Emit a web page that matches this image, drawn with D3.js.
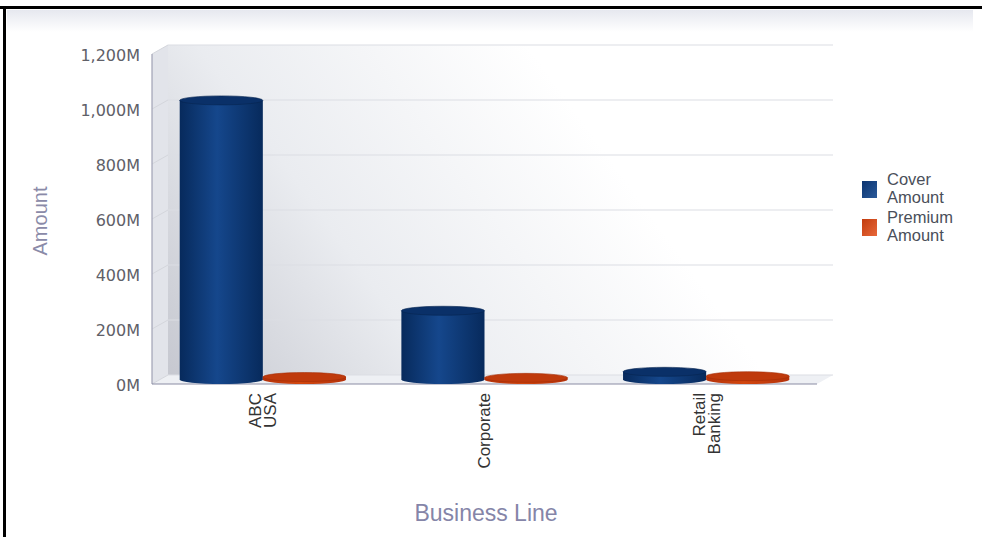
<!DOCTYPE html>
<html><head><meta charset="utf-8">
<script src="https://cdnjs.cloudflare.com/ajax/libs/d3/7.8.5/d3.min.js"></script>
<style>html,body{margin:0;padding:0;background:#fff;overflow:hidden}</style>
</head><body>
<svg id="chart" width="982" height="537"></svg>
<script>
const categories = [["ABC","USA"],["Corporate"],["Retail","Banking"]];
const categoryKeys = ["ABC USA","Corporate","Retail Banking"];
const seriesNames = ["Cover Amount","Premium Amount"];
const coverAmount = [1015, 250, 28];
const premiumAmount = [9, 6, 12];
const yTicks = [0,200,400,600,800,1000,1200];
const yTickLabels = ["0M","200M","400M","600M","800M","1,000M","1,200M"];

const FONT = "Arial, 'Liberation Sans', sans-serif";
const svg = d3.select("#chart");
const defs = svg.append("defs");

// frame
svg.append("rect").attr("x",0).attr("y",0).attr("width",982).attr("height",537).attr("fill","#fff");
const hg = defs.append("linearGradient").attr("id","hdr").attr("x1",0).attr("y1",0).attr("x2",0).attr("y2",1);
hg.append("stop").attr("offset","0%").attr("stop-color","#e6e8ef");
hg.append("stop").attr("offset","100%").attr("stop-color","#ffffff");
svg.append("rect").attr("x",7).attr("y",10).attr("width",966).attr("height",22).attr("fill","url(#hdr)");
svg.append("rect").attr("x",0).attr("y",6).attr("width",982).attr("height",3).attr("fill","#000");
svg.append("rect").attr("x",3).attr("y",6).attr("width",3).attr("height",531).attr("fill","#000");

// geometry
const x0 = 152, x1 = 817, yBase = 384, yTop = 54;
const dx = 16, dy = -9;
const y = d3.scaleLinear().domain([0,1200]).range([yBase,yTop]);
const xb = d3.scaleBand().domain(categoryKeys).range([x0,x1]).paddingInner(0.25).paddingOuter(0.125);
const xs = d3.scaleBand().domain(seriesNames).range([0,xb.bandwidth()]);

// back wall gradient
const wg = defs.append("linearGradient").attr("id","wall").attr("gradientUnits","userSpaceOnUse")
  .attr("x1",x0+dx).attr("y1",yBase+dy).attr("x2",560).attr("y2",90);
wg.append("stop").attr("offset","0%").attr("stop-color","#c6c8d0");
wg.append("stop").attr("offset","45%").attr("stop-color","#eaecf0");
wg.append("stop").attr("offset","100%").attr("stop-color","#ffffff");
svg.append("rect").attr("x",x0+dx).attr("y",yTop+dy).attr("width",x1-x0).attr("height",yBase-yTop)
  .attr("fill","url(#wall)");
// side wall
svg.append("path").attr("d",`M${x0},${yTop}L${x0+dx},${yTop+dy}L${x0+dx},${yBase+dy}L${x0},${yBase}Z`)
  .attr("fill","#e2e4ea");
// floor
svg.append("path").attr("d",`M${x0},${yBase}L${x0+dx},${yBase+dy}L${x1+dx},${yBase+dy}L${x1},${yBase}Z`)
  .attr("fill","#eef0f4");

// gridlines on back and side walls
const grid = svg.append("g");
yTicks.forEach(t=>{
  const yy = y(t);
  grid.append("line").attr("x1",x0+dx).attr("x2",x1+dx).attr("y1",yy+dy).attr("y2",yy+dy)
    .attr("stroke","#dcdee4").attr("stroke-width",1.2);
  grid.append("line").attr("x1",x0).attr("x2",x0+dx).attr("y1",yy).attr("y2",yy+dy)
    .attr("stroke","#d4d6dc").attr("stroke-width",1);
});

// axes lines
svg.append("line").attr("x1",x0).attr("x2",x0).attr("y1",yTop).attr("y2",yBase).attr("stroke","#a0a2b4").attr("stroke-width",1.2);
svg.append("line").attr("x1",x0).attr("x2",x1).attr("y1",yBase).attr("y2",yBase).attr("stroke","#8a8ca4").attr("stroke-width",1.2);

// y axis labels
const yAxis = d3.axisLeft(y).tickValues(yTicks).tickFormat((d,i)=>yTickLabels[i]).tickSize(0).tickPadding(12);
const ya = svg.append("g").attr("transform",`translate(${x0},0)`).call(yAxis);
ya.select(".domain").remove();
ya.selectAll("text").attr("font-family","'DejaVu Sans', Verdana, sans-serif").attr("font-size",16)
  .attr("fill","#606068").attr("dy","0.4em");

// cylinder gradients
function cylGrad(id, dark, light){
  const g = defs.append("linearGradient").attr("id",id).attr("x1",0).attr("x2",1).attr("y1",0).attr("y2",0);
  g.append("stop").attr("offset","0%").attr("stop-color",dark);
  g.append("stop").attr("offset","45%").attr("stop-color",light);
  g.append("stop").attr("offset","100%").attr("stop-color",dark);
}
cylGrad("cylB","#072a5c","#15478c");
cylGrad("cylO","#b5320a","#d2470f");
const colors = {"Cover Amount":{grad:"url(#cylB)",top:"#0a3068",edge:"#062550"},
                "Premium Amount":{grad:"url(#cylO)",top:"#bf3a0c",edge:"#a52e06"}};

const data = [];
categoryKeys.forEach((c,i)=>{
  data.push({cat:c, s:"Cover Amount", v:coverAmount[i]});
  data.push({cat:c, s:"Premium Amount", v:premiumAmount[i]});
});
const ry = 4.5;
const bars = svg.append("g").attr("transform",`translate(0,${dy/2})`);
data.forEach(d=>{
  const bx = xb(d.cat)+xs(d.s), w = xs.bandwidth();
  const cx = bx + w/2;
  const yt = y(d.v), yb = y(0);
  const col = colors[d.s];
  bars.append("path")
    .attr("d",`M${bx},${yt}L${bx},${yb}A${w/2},${ry} 0 0 0 ${bx+w},${yb}L${bx+w},${yt}Z`)
    .attr("fill",col.grad);
  bars.append("ellipse").attr("cx",cx).attr("cy",yt).attr("rx",w/2).attr("ry",ry)
    .attr("fill",col.top).attr("stroke",col.edge).attr("stroke-width",0.6);
});

// category labels
const lab = svg.append("g");
categoryKeys.forEach((c,i)=>{
  const cx = xb(c)+xb.bandwidth()/2;
  const lines = categories[i];
  const t = lab.append("text")
    .attr("transform",`translate(${cx},${yBase+9}) rotate(-90)`)
    .attr("text-anchor","end").attr("font-family",FONT)
    .attr("font-size",17).attr("fill","#333");
  const n = lines.length;
  lines.forEach((l,k)=>{
    t.append("tspan").attr("x",0).attr("y",(k-(n-1)/2)*15).attr("dy","0.35em").text(l);
  });
});

// axis titles
svg.append("text").attr("transform","translate(47,221) rotate(-90)").attr("text-anchor","middle")
  .attr("font-family",FONT).attr("font-size",20).attr("fill","#8a8aa8").text("Amount");
svg.append("text").attr("x",486).attr("y",521).attr("text-anchor","middle")
  .attr("font-family",FONT).attr("font-size",23).attr("fill","#8585a8").text("Business Line");

// legend
function legGrad(id,a,b){
  const g = defs.append("linearGradient").attr("id",id).attr("x1",0).attr("x2",1).attr("y1",0).attr("y2",1);
  g.append("stop").attr("offset","0%").attr("stop-color",a);
  g.append("stop").attr("offset","100%").attr("stop-color",b);
}
legGrad("lgB","#0b3470","#2a5a9a");
legGrad("lgO","#c23c0e","#e8683a");
const legend = svg.append("g");
const legItems = [{name:["Cover","Amount"],fill:"url(#lgB)",y:181},{name:["Premium","Amount"],fill:"url(#lgO)",y:219}];
legItems.forEach(it=>{
  legend.append("rect").attr("x",862).attr("y",it.y).attr("width",15).attr("height",17).attr("fill",it.fill);
  it.name.forEach((l,k)=>legend.append("text").attr("font-family",FONT)
    .attr("font-size",16.5).attr("fill","#4a4f5a")
    .attr("x",887).attr("y",it.y+4+k*17.5).text(l));
});
</script>
</body></html>
